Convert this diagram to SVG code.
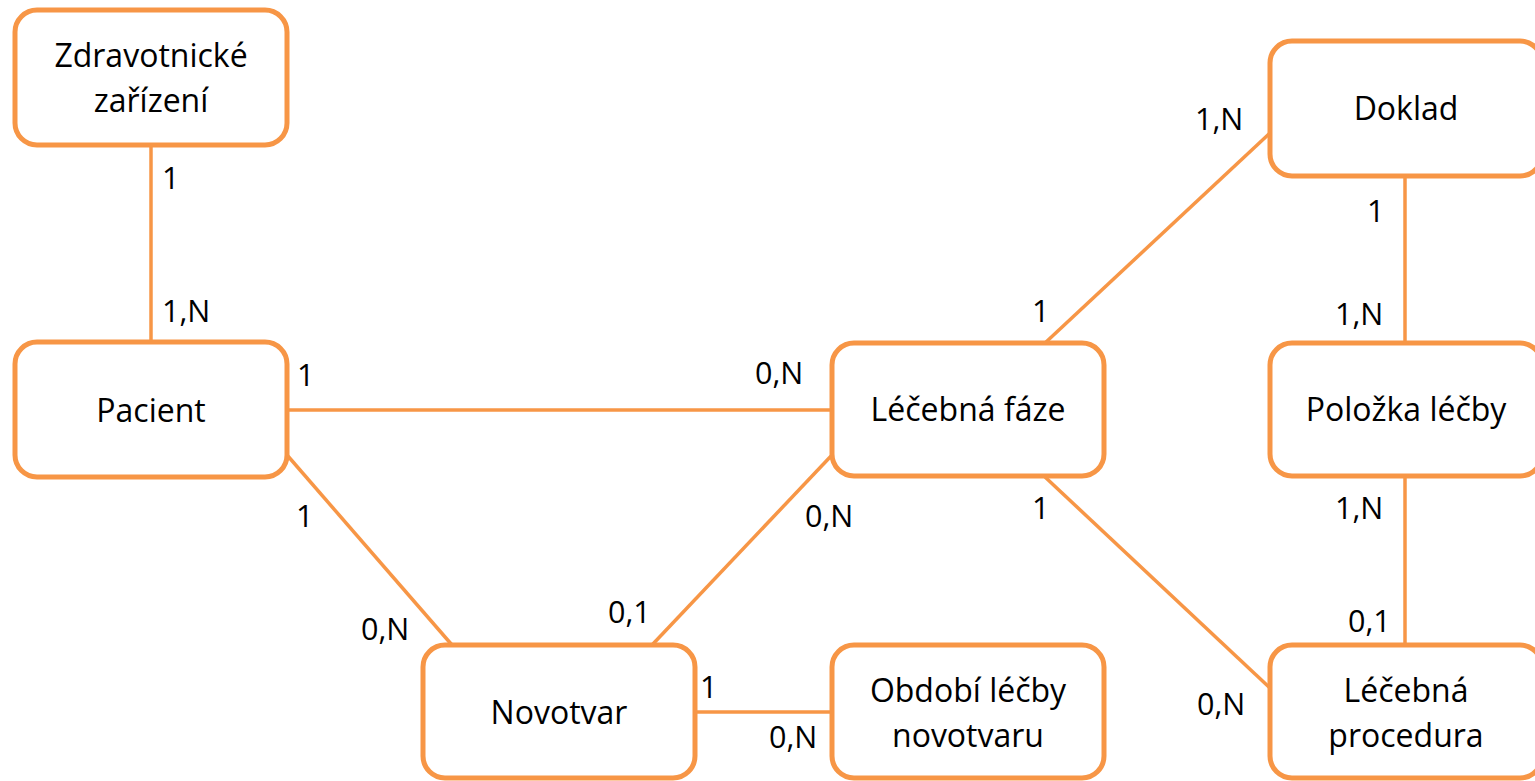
<svg xmlns="http://www.w3.org/2000/svg" width="1535" height="781" viewBox="0 0 1535 781">
<style>
.box{fill:#fff;stroke:#F79646;stroke-width:5}
.con{stroke:#F79646;stroke-width:3.5;fill:none}
.t{font-family:"Open Sans","Liberation Sans",sans-serif;font-size:32px;fill:#000;text-anchor:middle}
.l{font-family:"Open Sans","Liberation Sans",sans-serif;font-size:30.5px;fill:#000}
</style>
<rect width="1535" height="781" fill="#fff"/>
<g id="connectors">
<path class="con" d="M151 145V342"/>
<path class="con" d="M287 410H832"/>
<path class="con" d="M287 455L452 645"/>
<path class="con" d="M652 645L832 455"/>
<path class="con" d="M695 712H832"/>
<path class="con" d="M1045 343L1270 133"/>
<path class="con" d="M1045 477L1270 688"/>
<path class="con" d="M1405 177V343"/>
<path class="con" d="M1405 475V645"/>
</g>
<g id="labels">
<text class="l" x="162" y="189">1</text>
<text class="l" x="162" y="322">1,N</text>
<text class="l" x="297" y="386">1</text>
<text class="l" x="755" y="384">0,N</text>
<text class="l" x="296" y="527">1</text>
<text class="l" x="805" y="527">0,N</text>
<text class="l" x="361" y="640">0,N</text>
<text class="l" x="608" y="623">0,1</text>
<text class="l" x="700" y="698">1</text>
<text class="l" x="769" y="748">0,N</text>
<text class="l" x="1195" y="130">1,N</text>
<text class="l" x="1367" y="222">1</text>
<text class="l" x="1335" y="325">1,N</text>
<text class="l" x="1032" y="322">1</text>
<text class="l" x="1032" y="519">1</text>
<text class="l" x="1335" y="519">1,N</text>
<text class="l" x="1348" y="632">0,1</text>
<text class="l" x="1197" y="715">0,N</text>
</g>
<g id="zdravotnicke">
<rect class="box" x="15" y="10" width="272" height="135" rx="22"/>
<text class="t" x="151" y="67">Zdravotnické</text>
<text class="t" x="151" y="112">zařízení</text>
</g>
<g id="pacient">
<rect class="box" x="15" y="342" width="272" height="135" rx="22"/>
<text class="t" x="151" y="422">Pacient</text>
</g>
<g id="novotvar">
<rect class="box" x="423" y="645" width="272" height="133" rx="22"/>
<text class="t" x="559" y="724">Novotvar</text>
</g>
<g id="obdobi">
<rect class="box" x="832" y="645" width="272" height="133" rx="22"/>
<text class="t" x="968" y="702">Období léčby</text>
<text class="t" x="968" y="747">novotvaru</text>
</g>
<g id="lecebna-faze">
<rect class="box" x="832" y="343" width="272" height="133" rx="22"/>
<text class="t" x="968" y="421">Léčebná fáze</text>
</g>
<g id="doklad">
<rect class="box" x="1270" y="41" width="272" height="135" rx="22"/>
<text class="t" x="1406" y="120">Doklad</text>
</g>
<g id="polozka">
<rect class="box" x="1270" y="343" width="272" height="133" rx="22"/>
<text class="t" x="1406" y="421">Položka léčby</text>
</g>
<g id="procedura">
<rect class="box" x="1270" y="645" width="272" height="133" rx="22"/>
<text class="t" x="1406" y="702">Léčebná</text>
<text class="t" x="1406" y="747">procedura</text>
</g>
</svg>
